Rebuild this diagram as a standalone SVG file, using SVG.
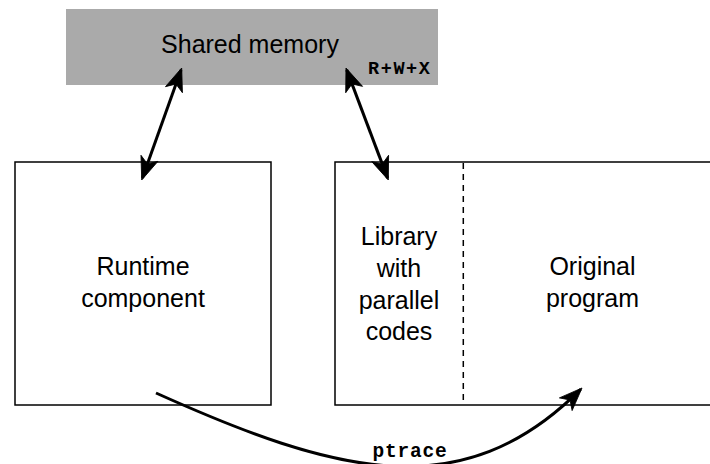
<svg xmlns="http://www.w3.org/2000/svg" width="710" height="464" viewBox="0 0 710 464">
<style>
.lbl{font-family:"Liberation Sans",Arial,sans-serif;font-size:25px;fill:#000;text-anchor:middle}
.mono{font-family:"Liberation Mono","Courier New",monospace;font-weight:bold;fill:#000}
.box{fill:#fff;stroke:#000;stroke-width:1.5}
.conn{fill:none;stroke:#000;stroke-width:3}
</style>
<defs>
<marker id="ah" viewBox="-26 -11 30 22" refX="-2" refY="0" markerWidth="30" markerHeight="22" markerUnits="userSpaceOnUse" orient="auto-start-reverse">
<path d="M0,0 L-23,-9 L-17,0 L-23,9 Z" fill="#000" stroke="#000" stroke-width="0.8" stroke-linejoin="miter"/>
</marker>
</defs>
<g id="shared-memory">
<rect x="66" y="9" width="372" height="76" fill="#aaaaaa"/>
<text class="lbl" x="250" y="53">Shared memory</text>
<text class="mono" x="368" y="73.7" font-size="18.5" letter-spacing="1.6">R+W+X</text>
</g>
<g id="runtime">
<rect class="box" x="15" y="162" width="256" height="243"/>
<text class="lbl" x="143" y="275">Runtime</text>
<text class="lbl" x="143" y="306.7">component</text>
</g>
<g id="program">
<rect class="box" x="335" y="162" width="390" height="243"/>
<line x1="463.3" y1="163" x2="463.3" y2="405" stroke="#000" stroke-width="1.5" stroke-dasharray="6,5"/>
<g id="library">
<text class="lbl" x="399" y="245">Library</text>
<text class="lbl" x="399" y="277">with</text>
<text class="lbl" x="399" y="309">parallel</text>
<text class="lbl" x="399" y="340">codes</text>
</g>
<g id="original">
<text class="lbl" x="592.5" y="275">Original</text>
<text class="lbl" x="592.5" y="306.7">program</text>
</g>
</g>
<g id="connectors">
<line class="conn" x1="181" y1="69.9" x2="142.4" y2="178.1" marker-start="url(#ah)" marker-end="url(#ah)"/>
<line class="conn" x1="346.7" y1="69.9" x2="387.6" y2="178.1" marker-start="url(#ah)" marker-end="url(#ah)"/>
<path class="conn" d="M156,393 C336,474 462,508 580.6,389.4" marker-end="url(#ah)"/>
<text class="mono" x="372.5" y="457" font-size="19.5" letter-spacing="0.8">ptrace</text>
</g>
</svg>
